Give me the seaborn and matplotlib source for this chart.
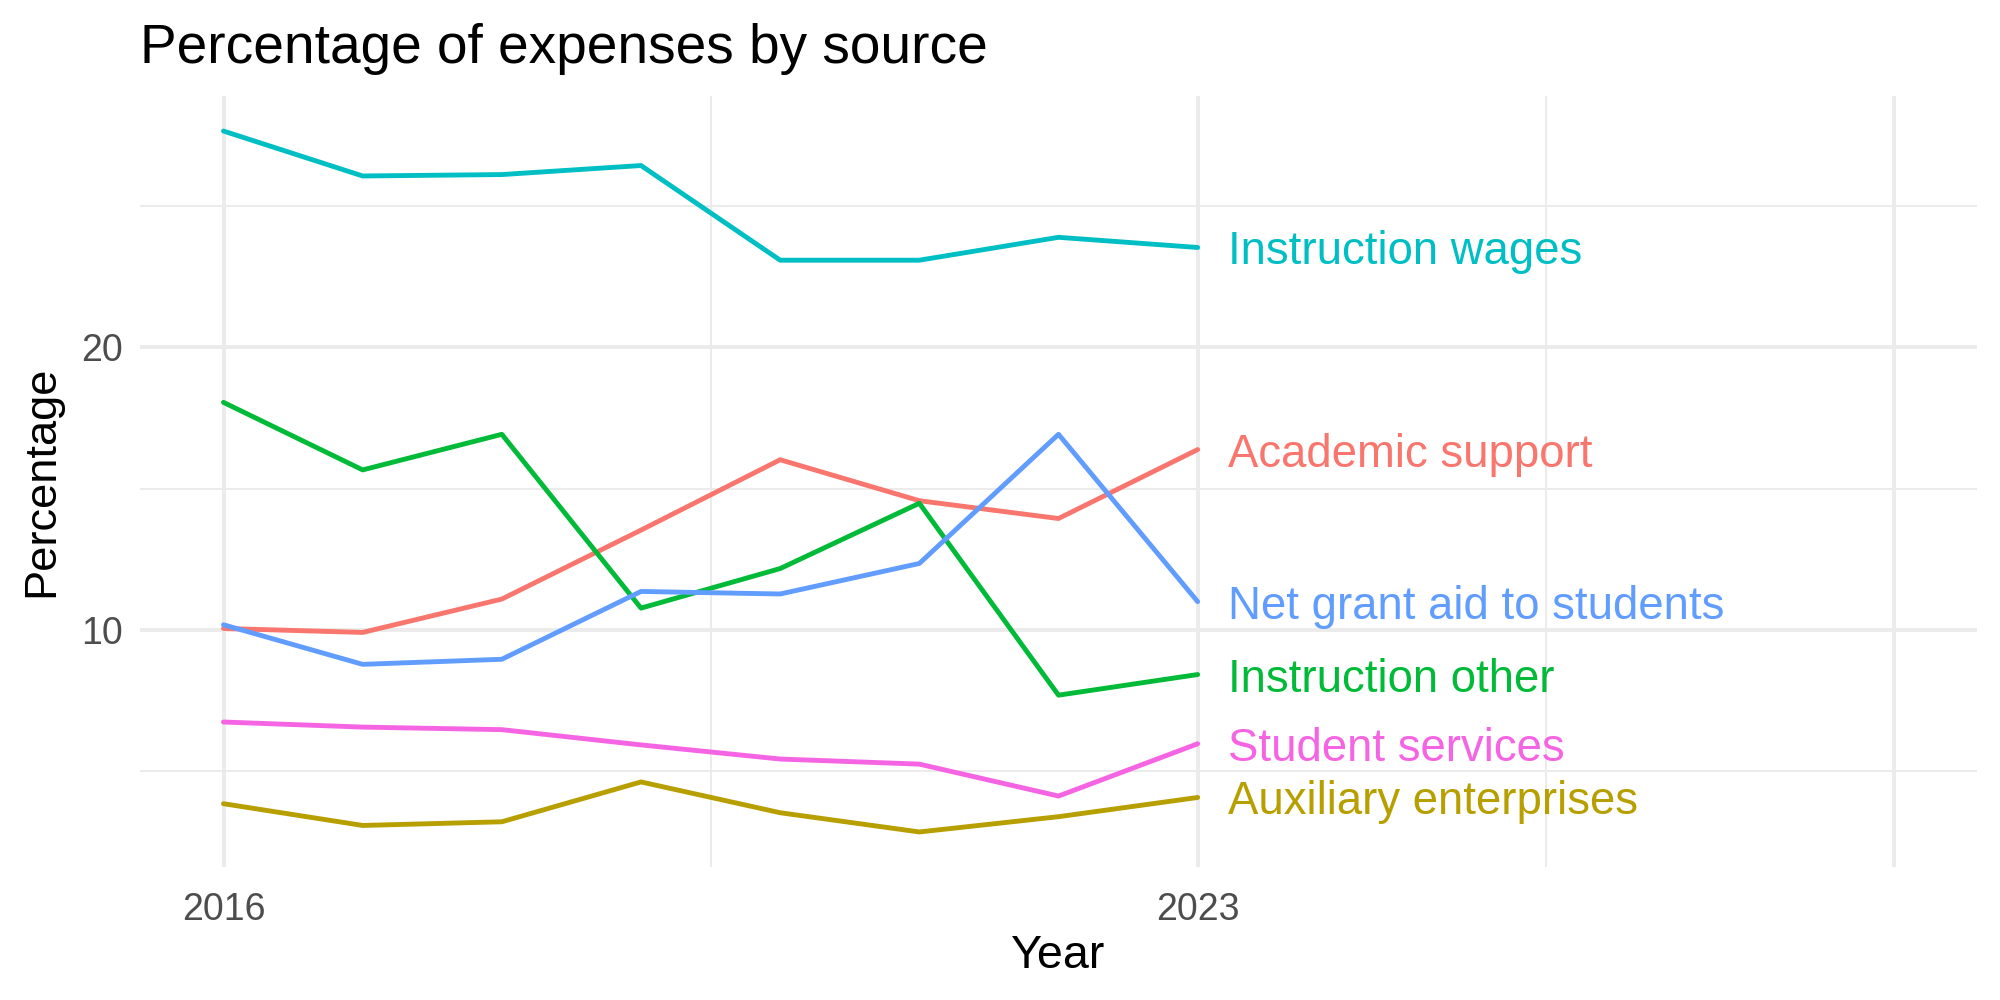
import matplotlib
matplotlib.use("Agg")
import pandas as pd
import matplotlib.pyplot as plt
import seaborn as sns
from matplotlib.ticker import FixedLocator

# Data
years = [2016, 2017, 2018, 2019, 2020, 2021, 2022, 2023]
instruction_wages = [27.65, 26.06, 26.11, 26.43, 23.08, 23.08, 23.89, 23.53]
academic_support = [10.05, 9.91, 11.09, 13.53, 16.02, 14.57, 13.94, 16.38]
net_grant_aid = [10.18, 8.78, 8.96, 11.36, 11.27, 12.35, 16.92, 11.0]
instruction_other = [18.05, 15.66, 16.92, 10.77, 12.17, 14.48, 7.69, 8.42]
student_services = [6.74, 6.56, 6.47, 5.93, 5.43, 5.25, 4.12, 5.97]
auxiliary = [3.85, 3.08, 3.21, 4.62, 3.53, 2.85, 3.39, 4.07]

sources = {
    "Academic support": academic_support,
    "Auxiliary enterprises": auxiliary,
    "Instruction other": instruction_other,
    "Instruction wages": instruction_wages,
    "Net grant aid to students": net_grant_aid,
    "Student services": student_services,
}
palette = {
    "Academic support": "#F8766D",
    "Auxiliary enterprises": "#B79F00",
    "Instruction other": "#00BA38",
    "Instruction wages": "#00BFC4",
    "Net grant aid to students": "#619CFF",
    "Student services": "#F564E3",
}

rows = []
for name, vals in sources.items():
    for yr, v in zip(years, vals):
        rows.append({"Year": yr, "Percentage": v, "Source": name})
df = pd.DataFrame(rows)

sns.set_style("white")
plt.rcParams["font.family"] = ["Liberation Sans", "DejaVu Sans"]

fig, ax = plt.subplots(figsize=(10, 5), dpi=200)
fig.subplots_adjust(left=0.07, right=0.9885, top=0.904, bottom=0.133)

sns.lineplot(data=df, x="Year", y="Percentage", hue="Source", palette=palette,
             linewidth=1.75, legend=False, ax=ax, zorder=3)

# direct labels at the end of each line
last_year = years[-1]
for name, vals in sources.items():
    ax.text(last_year + 0.22, vals[-1], name, color=palette[name],
            fontsize=16.4, va="center_baseline", ha="left", zorder=4)

ax.set_xlim(2015.4, 2028.6)
ax.set_ylim(1.61, 28.89)

ax.xaxis.set_major_locator(FixedLocator([2016, 2023, 2028]))
ax.set_xticklabels(["2016", "2023", ""])
ax.xaxis.set_minor_locator(FixedLocator([2019.5, 2025.5]))
ax.yaxis.set_major_locator(FixedLocator([10, 20]))
ax.yaxis.set_minor_locator(FixedLocator([5, 15, 25]))

ax.grid(which="major", color="#EBEBEB", linewidth=1.4, zorder=0)
ax.grid(which="minor", color="#EBEBEB", linewidth=0.7, zorder=0)
ax.set_axisbelow(True)
for s in ax.spines.values():
    s.set_visible(False)
ax.tick_params(which="both", length=0, labelsize=13.5, labelcolor="#4D4D4D")
ax.tick_params(axis="x", pad=9)
ax.tick_params(axis="y", pad=6)

ax.set_xlabel("Year", fontsize=16.8, color="black", labelpad=2)
ax.set_ylabel("Percentage", fontsize=16.3, color="black", labelpad=7)
ax.set_title("Percentage of expenses by source", fontsize=19.8, color="black",
             loc="left", x=0.0, pad=12)

fig.savefig("out.png", dpi=200)
